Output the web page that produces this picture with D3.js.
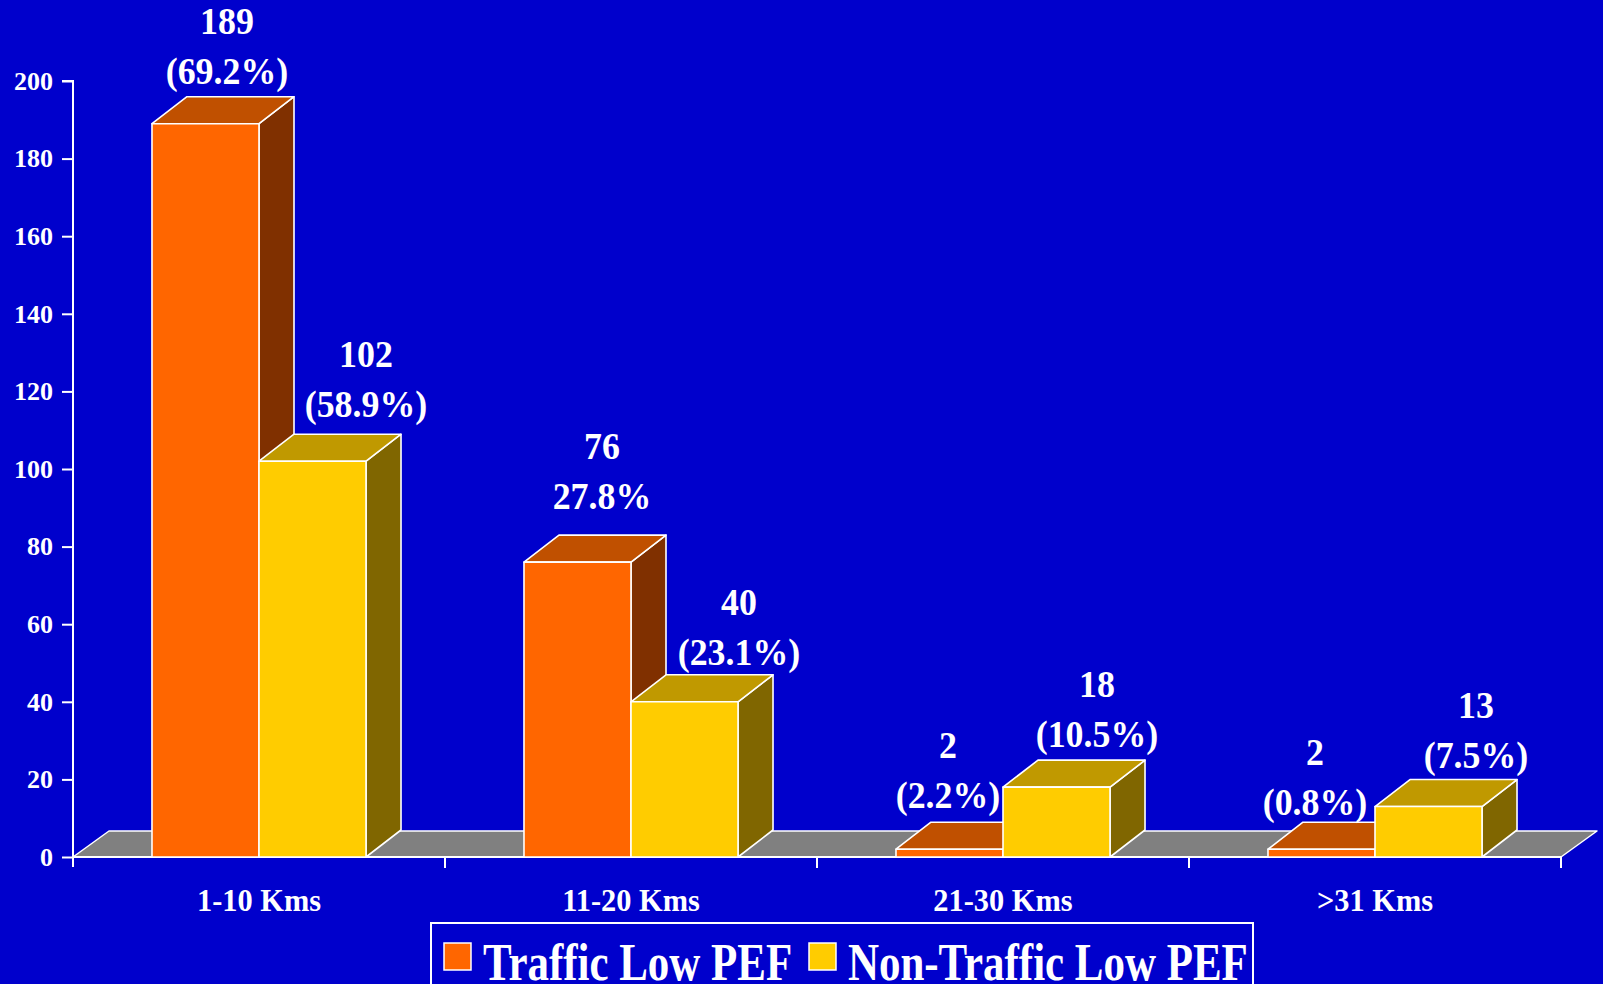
<!DOCTYPE html>
<html>
<head>
<meta charset="utf-8">
<script src="https://cdn.jsdelivr.net/npm/d3@7"></script>
<style>
  html, body { margin: 0; padding: 0; background: #0000CC; overflow: hidden; }
  svg { display: block; }
  text { font-family: "Liberation Serif", "Times New Roman", serif; font-weight: bold; fill: #fff; }
</style>
</head>
<body>
<script>
// Distance bands on the x axis
const categories = ["1-10 Kms", "11-20 Kms", "21-30 Kms", ">31 Kms"];
const seriesNames = ["Traffic Low PEF", "Non-Traffic Low PEF"];
// Counts per band
const trafficValues = [189, 76, 2, 2];
const nonTrafficValues = [102, 40, 18, 13];
// Share labels per band
const trafficPct = ["(69.2%)", "27.8%", "(2.2%)", "(0.8%)"];
const nonTrafficPct = ["(58.9%)", "(23.1%)", "(10.5%)", "(7.5%)"];
// Y axis ticks
const yTicks = [0, 20, 40, 60, 80, 100, 120, 140, 160, 180, 200];

// Label nudges (pixels) relative to each bar's top, per series and band
const labelDx = [[4, 7, -19, -24], [36, 37, 23, 30]];
const labelDy = [[-26, -39, -27, -20], [-30, -23, -26, -25]];

const W = 1603, H = 984;
const depthX = 35, depthY = 27;

const faceColors = [
  { front: "#FF6600", top: "#C05000", side: "#803000" },
  { front: "#FFCC00", top: "#C09900", side: "#806600" }
];

const svg = d3.select("body").append("svg").attr("width", W).attr("height", H);
svg.append("rect").attr("width", W).attr("height", H).attr("fill", "#0000CC");

const x = d3.scaleBand().domain(categories).range([73, 1561]).paddingInner(0).paddingOuter(0);
const xs = d3.scaleBand().domain(seriesNames).range([0, x.bandwidth()]).paddingInner(0).paddingOuter(0.738);
const y = d3.scaleLinear().domain([0, 200]).range([857, 81]);

const y0 = y(0);
const xL = x.range()[0], xR = x.range()[1];

// Floor
svg.append("path")
  .attr("d", `M${xL},${y0} L${xL + depthX + 1},${y0 - depthY + 1} L${xR + depthX + 1},${y0 - depthY + 1} L${xR},${y0} Z`)
  .attr("fill", "#808080").attr("stroke", "#fff").attr("stroke-width", 1.5).attr("stroke-linejoin", "round");

// Y axis
const yAxis = d3.axisLeft(y).tickValues(yTicks).tickSize(11).tickPadding(9);
const gy = svg.append("g").attr("transform", `translate(${xL},0)`).call(yAxis);
gy.select(".domain").attr("stroke", "#fff").attr("stroke-width", 2).attr("d", `M-11,${y(200)}H0V${y0 + 10}`);
gy.selectAll(".tick line").attr("stroke", "#fff").attr("stroke-width", 2);
gy.selectAll(".tick text").attr("font-size", 26).attr("fill", "#fff")
  .attr("font-family", "Liberation Serif, serif").attr("font-weight", "bold");

// X axis
const xAxis = d3.axisBottom(x).tickSize(0);
const gx = svg.append("g").attr("transform", `translate(0,${y0})`).call(xAxis);
gx.select(".domain").attr("stroke", "#fff").attr("stroke-width", 2).attr("d", `M${xL},0H${xR}`);
gx.selectAll(".tick text").attr("font-size", 32).attr("fill", "#fff")
  .attr("font-family", "Liberation Serif, serif").attr("font-weight", "bold")
  .attr("y", 54).attr("dy", null).attr("transform", "scale(0.95,1)");
// boundary ticks between bands
const bounds = categories.map(c => x(c)).concat([xR]).slice(1);
gx.selectAll("line.bound").data(bounds).enter().append("line")
  .attr("x1", d => d).attr("x2", d => d).attr("y1", 0).attr("y2", 11)
  .attr("stroke", "#fff").attr("stroke-width", 2);

// Bars
const seriesValues = [trafficValues, nonTrafficValues];
const seriesPct = [trafficPct, nonTrafficPct];
const bars = [];
categories.forEach((c, ci) => {
  seriesNames.forEach((s, si) => {
    bars.push({ c, ci, s, si, v: seriesValues[si][ci], pct: seriesPct[si][ci] });
  });
});

const gBars = svg.append("g");
bars.forEach(b => {
  const x0 = x(b.c) + xs(b.s), w = xs.bandwidth();
  const yt = y(b.v);
  const col = faceColors[b.si];
  const g = gBars.append("g").attr("stroke", "#fff").attr("stroke-width", 1.6).attr("stroke-linejoin", "round");
  g.append("path")
    .attr("d", `M${x0 + w},${y0} L${x0 + w + depthX},${y0 - depthY} L${x0 + w + depthX},${yt - depthY} L${x0 + w},${yt} Z`)
    .attr("fill", col.side);
  g.append("path")
    .attr("d", `M${x0},${yt} L${x0 + depthX},${yt - depthY} L${x0 + w + depthX},${yt - depthY} L${x0 + w},${yt} Z`)
    .attr("fill", col.top);
  g.append("rect").attr("x", x0).attr("y", yt).attr("width", w).attr("height", y0 - yt)
    .attr("fill", col.front);
});

// Value labels
const gLab = svg.append("g").attr("text-anchor", "middle").attr("font-size", 37);
bars.forEach(b => {
  const w = xs.bandwidth();
  const cx = x(b.c) + xs(b.s) + w / 2 + depthX / 2 + labelDx[b.si][b.ci];
  const py = y(b.v) - depthY + labelDy[b.si][b.ci];
  const lg = gLab.append("g").attr("transform", `translate(${cx},0) scale(0.97,1)`);
  lg.append("text").attr("x", 0).attr("y", py).attr("dy", "0.35em").text(b.pct);
  lg.append("text").attr("x", 0).attr("y", py - 50).attr("dy", "0.35em").text(b.v);
});

// Legend
const lgd = svg.append("g");
lgd.append("rect").attr("x", 431).attr("y", 923).attr("width", 822).attr("height", 80)
  .attr("fill", "none").attr("stroke", "#fff").attr("stroke-width", 2);
const legendX = [444, 809];
seriesNames.forEach((s, i) => {
  lgd.append("rect").attr("x", legendX[i]).attr("y", 943).attr("width", 27).attr("height", 27)
    .attr("fill", faceColors[i].front).attr("stroke", "#fff").attr("stroke-width", 1.5);
  lgd.append("text")
    .attr("transform", `translate(${legendX[i] + 39},980) scale(0.81,1)`)
    .attr("font-size", 53).text(s);
});
</script>
</body>
</html>
